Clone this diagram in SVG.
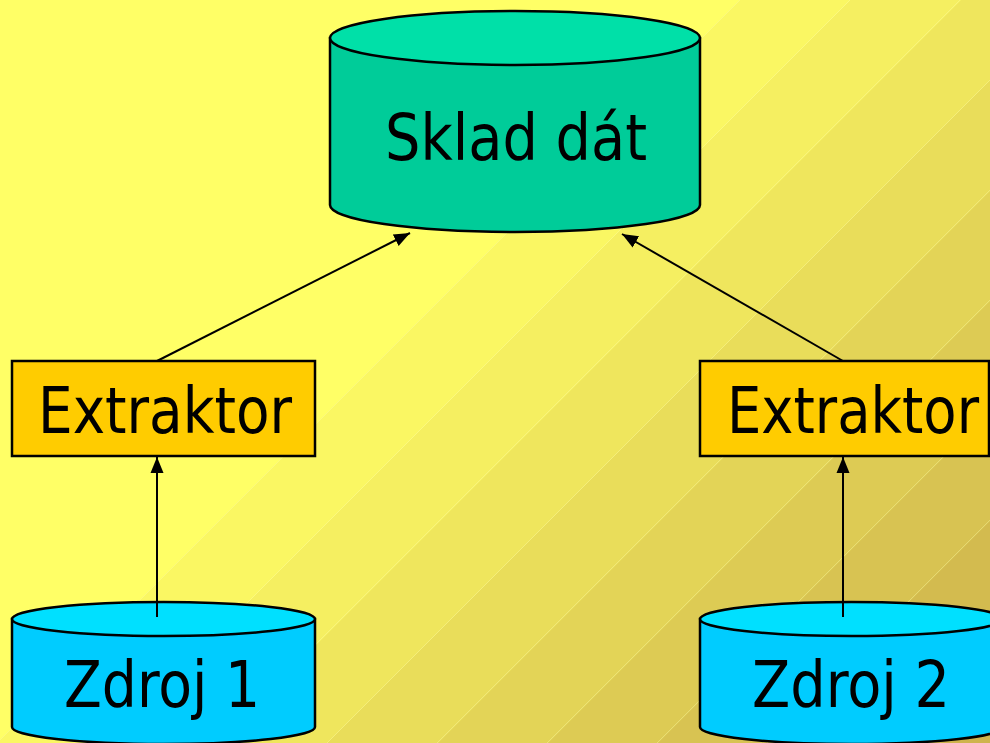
<svg xmlns="http://www.w3.org/2000/svg" width="990" height="743" viewBox="0 0 990 743">
<style>
.sh{stroke:#000;stroke-width:2.5}
.lbl{font-family:"DejaVu Sans Condensed","DejaVu Sans",sans-serif;font-size:64px;fill:#000}
.conn{stroke:#000;stroke-width:2;fill:none}
.band{stroke:#FFFFB0;stroke-width:1;opacity:0.35}
</style>
<defs>
<linearGradient id="bg" gradientUnits="userSpaceOnUse" x1="0" y1="0" x2="866.5" y2="866.5">
<stop offset="0" stop-color="#FFFF66"/>
<stop offset="0.427" stop-color="#FFFF66"/>
<stop offset="0.427" stop-color="#FAF763"/>
<stop offset="0.491" stop-color="#FAF763"/>
<stop offset="0.491" stop-color="#F5EF61"/>
<stop offset="0.555" stop-color="#F5EF61"/>
<stop offset="0.555" stop-color="#EFE65D"/>
<stop offset="0.618" stop-color="#EFE65D"/>
<stop offset="0.618" stop-color="#E9DD5A"/>
<stop offset="0.682" stop-color="#E9DD5A"/>
<stop offset="0.682" stop-color="#E3D457"/>
<stop offset="0.745" stop-color="#E3D457"/>
<stop offset="0.745" stop-color="#DDCB54"/>
<stop offset="0.809" stop-color="#DDCB54"/>
<stop offset="0.809" stop-color="#D8C352"/>
<stop offset="0.872" stop-color="#D8C352"/>
<stop offset="0.872" stop-color="#D3BB4F"/>
<stop offset="0.936" stop-color="#D3BB4F"/>
<stop offset="0.936" stop-color="#CEB44D"/>
<stop offset="1" stop-color="#CEB44D"/>
</linearGradient>
<marker id="ah" markerUnits="userSpaceOnUse" markerWidth="18" markerHeight="16" refX="16" refY="8" orient="auto">
<path d="M0,1.5 L16,8 L0,14.5 Z" fill="#000"/>
</marker>
</defs>
<rect x="0" y="0" width="990" height="743" fill="url(#bg)"/>
<g id="bands">
<line class="band" x1="740" y1="0" x2="0" y2="740"/>
<line class="band" x1="850" y1="0" x2="107" y2="743"/>
<line class="band" x1="960" y1="0" x2="217" y2="743"/>
<line class="band" x1="990" y1="80" x2="327" y2="743"/>
<line class="band" x1="990" y1="190" x2="437" y2="743"/>
<line class="band" x1="990" y1="300" x2="547" y2="743"/>
<line class="band" x1="990" y1="410" x2="657" y2="743"/>
<line class="band" x1="990" y1="520" x2="767" y2="743"/>
<line class="band" x1="990" y1="630" x2="877" y2="743"/>
</g>

<g id="sklad">
<path class="sh" d="M330,38 L330,205 A185,27 0 0 0 700,205 L700,38 Z" fill="#00CC99"/>
<ellipse class="sh" cx="515" cy="38" rx="185" ry="27" fill="#00E0A8"/>
<text class="lbl" x="385" y="160" textLength="262" lengthAdjust="spacingAndGlyphs">Sklad dát</text>
</g>

<g id="extraktor1">
<rect class="sh" x="12" y="361" width="303" height="95" fill="#FFCC00"/>
<text class="lbl" x="38" y="433" textLength="254" lengthAdjust="spacingAndGlyphs">Extraktor</text>
</g>

<g id="extraktor2">
<rect class="sh" x="700" y="361" width="289" height="95" fill="#FFCC00"/>
<text class="lbl" x="727" y="433" textLength="252" lengthAdjust="spacingAndGlyphs">Extraktor</text>
</g>

<g id="zdroj1">
<path class="sh" d="M12,619 L12,727 A151.5,17 0 0 0 315,727 L315,619 Z" fill="#00CCFF"/>
<ellipse class="sh" cx="163.5" cy="619" rx="151.5" ry="17" fill="#00E0FF"/>
<text class="lbl" x="64" y="707" textLength="196" lengthAdjust="spacingAndGlyphs">Zdroj 1</text>
</g>

<g id="zdroj2">
<path class="sh" d="M700,619 L700,727 A151.5,17 0 0 0 1003,727 L1003,619 Z" fill="#00CCFF"/>
<ellipse class="sh" cx="851.5" cy="619" rx="151.5" ry="17" fill="#00E0FF"/>
<text class="lbl" x="752" y="707" textLength="198" lengthAdjust="spacingAndGlyphs">Zdroj 2</text>
</g>

<g id="connectors">
<line class="conn" x1="157" y1="361" x2="410" y2="233" marker-end="url(#ah)"/>
<line class="conn" x1="843" y1="361" x2="622" y2="234" marker-end="url(#ah)"/>
<line class="conn" x1="157" y1="617" x2="157" y2="457" marker-end="url(#ah)"/>
<line class="conn" x1="843" y1="617" x2="843" y2="457" marker-end="url(#ah)"/>
</g>
</svg>
